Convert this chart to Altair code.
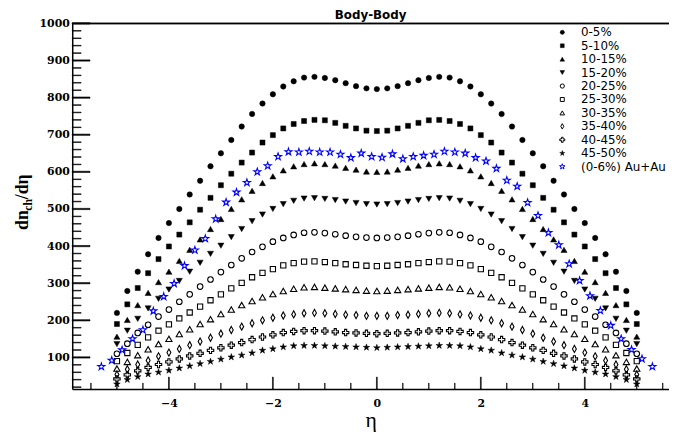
import altair as alt
import pandas as pd

# ---------------- data ----------------
eta_bb = [-5.0, -4.8, -4.6, -4.4, -4.2, -4.0, -3.8, -3.6, -3.4, -3.2, -3.0, -2.8, -2.6,
          -2.4, -2.2, -2.0, -1.8, -1.6, -1.4, -1.2, -1.0, -0.8, -0.6, -0.4, -0.2, 0.0,
          0.2, 0.4, 0.6, 0.8, 1.0, 1.2, 1.4, 1.6, 1.8, 2.0, 2.2, 2.4, 2.6, 2.8, 3.0,
          3.2, 3.4, 3.6, 3.8, 4.0, 4.2, 4.4, 4.6, 4.8, 5.0]

c00_05 = [220, 279, 331, 378, 422, 462, 500, 539, 576, 615, 650, 686, 722, 756, 784, 809, 830, 844, 854, 856, 853, 847, 839, 831, 825,
          823,
          825, 831, 839, 847, 853, 856, 854, 844, 830, 809, 784, 756, 722, 686, 650, 615, 576, 539, 500, 462, 422, 378, 331, 279, 220]
c05_10 = [190, 243, 287, 327, 365, 399, 431, 464, 498, 530, 564, 595, 625, 652, 679, 699, 717, 729, 737, 740, 739, 732, 724, 717, 711,
          710,
          711, 717, 724, 732, 739, 740, 737, 729, 717, 699, 679, 652, 625, 595, 564, 530, 498, 464, 431, 399, 365, 327, 287, 243, 190]
c10_15 = [156, 201, 241, 274, 303, 331, 360, 390, 418, 446, 473, 500, 526, 549, 570, 588, 604, 615, 621, 623, 621, 617, 611, 606, 601,
          600,
          601, 606, 611, 617, 621, 623, 621, 615, 604, 588, 570, 549, 526, 500, 473, 446, 418, 390, 360, 331, 303, 274, 241, 201, 156]
c15_20 = [136, 172, 204, 232, 258, 283, 306, 331, 355, 379, 401, 424, 446, 467, 485, 500, 513, 522, 528, 529, 527, 524, 520, 516, 513,
          512,
          513, 516, 520, 524, 527, 529, 528, 522, 513, 500, 485, 467, 446, 424, 401, 379, 355, 331, 306, 283, 258, 232, 204, 172, 136]
c20_25 = [110, 137, 166, 188, 210, 229, 250, 270, 291, 310, 330, 349, 367, 384, 398, 412, 422, 430, 436, 437, 435, 432, 428, 425, 423,
          422,
          423, 425, 428, 432, 435, 437, 436, 430, 422, 412, 398, 384, 367, 349, 330, 310, 291, 270, 250, 229, 210, 188, 166, 137, 110]
c25_30 = [90, 112, 134, 154, 172, 189, 205, 221, 237, 254, 270, 286, 301, 316, 328, 338, 348, 354, 358, 359, 357, 354, 351, 349, 347,
          346,
          347, 349, 351, 354, 357, 359, 358, 354, 348, 338, 328, 316, 301, 286, 270, 254, 237, 221, 205, 189, 172, 154, 134, 112, 90]
c30_35 = [70, 88, 106, 122, 136, 150, 163, 176, 190, 203, 217, 229, 241, 252, 262, 271, 279, 285, 289, 290, 288, 286, 284, 282, 280,
          279,
          280, 282, 284, 286, 288, 290, 289, 285, 279, 271, 262, 252, 241, 229, 217, 203, 190, 176, 163, 150, 136, 122, 106, 88, 70]
c35_40 = [54, 68, 81, 92, 103, 113, 123, 133, 143, 153, 164, 174, 183, 192, 200, 207, 213, 216, 219, 220, 219, 217, 215, 214, 212,
          212,
          212, 214, 215, 217, 219, 220, 219, 216, 213, 207, 200, 192, 183, 174, 164, 153, 143, 133, 123, 113, 103, 92, 81, 68, 54]
c40_45 = [42, 53, 64, 73, 81, 88, 96, 104, 111, 119, 126, 133, 140, 148, 155, 161, 167, 170, 172, 172, 171, 169, 167, 166, 165,
          164,
          165, 166, 167, 169, 171, 172, 172, 170, 167, 161, 155, 148, 140, 133, 126, 119, 111, 104, 96, 88, 81, 73, 64, 53, 42]
c45_50 = [28, 40, 48, 55, 60, 65, 71, 77, 83, 89, 95, 101, 106, 112, 119, 123, 128, 131, 132, 132, 131, 130, 129, 128, 127,
          126,
          127, 128, 129, 130, 131, 132, 132, 131, 128, 123, 119, 112, 106, 101, 95, 89, 83, 77, 71, 65, 60, 55, 48, 40, 28]

eta_auau = [-5.3, -5.1, -4.9, -4.7, -4.5, -4.3, -4.1, -3.9, -3.7, -3.5, -3.3, -3.1, -2.9, -2.7,
            -2.5, -2.3, -2.1, -1.9, -1.7, -1.5, -1.3, -1.1, -0.9, -0.7, -0.5, -0.3, -0.1,
            0.1, 0.3, 0.5, 0.7, 0.9, 1.1, 1.3, 1.5, 1.7, 1.9, 2.1, 2.3, 2.5, 2.7, 2.9,
            3.1, 3.3, 3.5, 3.7, 3.9, 4.1, 4.3, 4.5, 4.7, 4.9, 5.1, 5.3]
auau_0_6 = [75, 92, 120, 150, 174, 225, 264, 299, 347, 389, 420, 473, 518, 545,
            571, 600, 616, 641, 654, 653, 655, 653, 653, 647, 638, 650, 641,
            639, 648, 635, 641, 644, 647, 655, 653, 650, 638, 629, 609, 577, 561, 517,
            482, 436, 403, 352, 307, 266, 226, 186, 150, 121, 96, 75]

labels = ["0-5%", "5-10%", "10-15%", "15-20%", "20-25%", "25-30%", "30-35%",
          "35-40%", "40-45%", "45-50%", "(0-6%) Au+Au"]

x_major = [-4, -2, 0, 2, 4]
x_minor = [-5.5, -5.0, -4.5, -3.5, -3.0, -2.5, -1.5, -1.0, -0.5, 0.5, 1.0, 1.5,
           2.5, 3.0, 3.5, 4.5, 5.0, 5.5]
y_major = [100, 200, 300, 400, 500, 600, 700, 800, 900, 1000]
y_minor = [20, 40, 60, 80, 120, 140, 160, 180, 220, 240, 260, 280, 320, 340, 360, 380,
           420, 440, 460, 480, 520, 540, 560, 580, 620, 640, 660, 680, 720, 740, 760, 780,
           820, 840, 860, 880, 920, 940, 960, 980]

series_values = [c00_05, c05_10, c10_15, c15_20, c20_25, c25_30, c30_35,
                 c35_40, c40_45, c45_50, auau_0_6]
series_eta = [eta_bb] * 10 + [eta_auau]
for e, v in zip(series_eta, series_values):
    assert len(e) == len(v), (len(e), len(v))

# ---------------- styles ----------------
STAR = ("M0,-1L0.2245,-0.309L0.951,-0.309L0.363,0.118L0.588,0.809L0,0.382"
        "L-0.588,0.809L-0.363,0.118L-0.951,-0.309L-0.2245,-0.309Z")
THIN_DIAMOND = "M0,-1L0.55,0L0,1L-0.55,0Z"
OPEN_CROSS = ("M-0.33,-1L0.33,-1L0.33,-0.33L1,-0.33L1,0.33L0.33,0.33L0.33,1"
              "L-0.33,1L-0.33,0.33L-1,0.33L-1,-0.33L-0.33,-0.33Z")
VBAR = "M-0.07,-1L0.07,-1L0.07,1L-0.07,1Z"          # thin vertical bar (tick)
HBAR = "M-1,-0.07L1,-0.07L1,0.07L-1,0.07Z"          # thin horizontal bar (tick)
FRAME_BAR = "M-1,-0.0025L1,-0.0025L1,0.0025L-1,0.0025Z"  # long thin bar (top frame)

styles = [
    dict(shape="circle", filled=True, color="black", size=30, lsize=18),
    dict(shape="square", filled=True, color="black", size=26, lsize=15),
    dict(shape="triangle-up", filled=True, color="black", size=38, lsize=22),
    dict(shape="triangle-down", filled=True, color="black", size=38, lsize=22),
    dict(shape="circle", filled=False, color="black", size=32, lsize=18),
    dict(shape="square", filled=False, color="black", size=28, lsize=16),
    dict(shape="triangle-up", filled=False, color="black", size=40, lsize=22),
    dict(shape=THIN_DIAMOND, filled=False, color="black", size=52, lsize=30),
    dict(shape=OPEN_CROSS, filled=False, color="black", size=42, lsize=26),
    dict(shape=STAR, filled=True, color="black", size=50, lsize=30),
    dict(shape=STAR, filled=False, color="#0000ff", size=56, lsize=34),
]

W, H = 604, 370
XMIN, XMAX = -5.86, 5.62
YMIN, YMAX = 15, 1000
XU = (XMAX - XMIN) / W       # eta per pixel
YU = (YMAX - YMIN) / H       # dn/deta per pixel
xscale = alt.Scale(domain=[XMIN, XMAX], nice=False, zero=False)
yscale = alt.Scale(domain=[YMIN, YMAX], nice=False, zero=False)

xaxis = alt.Axis(values=x_major, format="d", title="η", ticks=False,
                 labelFont="DejaVu Serif", labelFontWeight="bold", labelFontSize=11,
                 labelPadding=9, titleFont="Liberation Serif", titleFontSize=22,
                 titleFontWeight="normal", titleY=38, titleBaseline="alphabetic",
                 titleColor="black")
yaxis = alt.Axis(values=y_major, format="d", title=None, ticks=False,
                 labelFont="DejaVu Serif", labelFontWeight="bold", labelFontSize=11,
                 labelPadding=3)


def X(f):
    return alt.X(f"{f}:Q", scale=xscale, axis=xaxis)


def Y(f):
    return alt.Y(f"{f}:Q", scale=yscale, axis=yaxis)


def point_props(st, size, sw_open):
    if st["filled"]:
        return dict(shape=st["shape"], filled=True, fill=st["color"], stroke=st["color"],
                    strokeWidth=0.5, size=size, opacity=1)
    return dict(shape=st["shape"], filled=False, stroke=st["color"], strokeWidth=sw_open,
                size=size, opacity=1)


layers = []
for lab, eta, vals, st in zip(labels, series_eta, series_values, styles):
    df = pd.DataFrame({"eta": eta, "v": vals})
    layers.append(alt.Chart(df).mark_point(**point_props(st, st["size"], 1.1))
                  .encode(x=X("eta"), y=Y("v")))


# inward ticks: thin filled bar symbols centred half a tick length inside the frame
def xtick_layer(vals, length):
    df = pd.DataFrame({"eta": vals, "v": [YMIN + 0.5 * length * YU] * len(vals)})
    return (alt.Chart(df)
            .mark_point(shape=VBAR, filled=True, fill="black", stroke="black",
                        strokeWidth=0.6, size=length * length, opacity=1)
            .encode(x=X("eta"), y=Y("v")))


def ytick_layer(vals, length):
    df = pd.DataFrame({"eta": [XMIN + 0.5 * length * XU] * len(vals), "v": vals})
    return (alt.Chart(df)
            .mark_point(shape=HBAR, filled=True, fill="black", stroke="black",
                        strokeWidth=0.6, size=length * length, opacity=1)
            .encode(x=X("eta"), y=Y("v")))


layers.append(xtick_layer(x_major, 12))
layers.append(xtick_layer(x_minor, 6))
layers.append(ytick_layer(y_major, 18))
layers.append(ytick_layer(y_minor, 9))

# top frame line: one long thin bar symbol centred on the top edge
top_df = pd.DataFrame({"eta": [(XMIN + XMAX) / 2], "v": [YMAX]})
layers.append(alt.Chart(top_df)
              .mark_point(shape=FRAME_BAR, filled=True, fill="black", stroke="black",
                          strokeWidth=0.3, size=W * W, opacity=1)
              .encode(x=X("eta"), y=Y("v")))

# y-axis title dn_ch/dη built from pieces
ytitle = [("dn", 18, -45, 209), ("ch", 12, -41, 189.5), ("/dη", 18, -45, 178)]
for txt, fs, xx, yy in ytitle:
    layers.append(alt.Chart(pd.DataFrame({"s": [txt]})).mark_text(
        font="Liberation Serif", fontWeight="bold", fontSize=fs, angle=270,
        align="left", baseline="alphabetic", color="black")
        .encode(text="s:N", x=alt.value(xx), y=alt.value(yy)))

# chart title
layers.append(alt.Chart(pd.DataFrame({"s": ["Body-Body"]})).mark_text(
    font="DejaVu Sans", fontWeight="bold", fontSize=12, align="center",
    baseline="alphabetic", color="black")
    .encode(text="s:N", x=alt.value(W / 2), y=alt.value(-4)))

# legend
LEG_Y0, LEG_DY = 9, 13.6
for i, (lab, st) in enumerate(zip(labels, styles)):
    d = pd.DataFrame({"label": [lab]})
    yy = LEG_Y0 + i * LEG_DY
    layers.append(alt.Chart(d).mark_point(**point_props(st, st["lsize"], 1))
                  .encode(x=alt.value(496), y=alt.value(yy)))
    layers.append(alt.Chart(d).mark_text(font="DejaVu Sans", fontSize=12, align="left",
                                         baseline="middle", color="black")
                  .encode(text="label:N", x=alt.value(515), y=alt.value(yy)))

chart = (alt.layer(*layers)
         .properties(width=W, height=H,
                     autosize=alt.AutoSizeParams(type="none"),
                     padding={"left": 65, "top": 13, "right": 0, "bottom": 45},
                     background="white")
         .configure_view(stroke=None)
         .configure_axis(domainColor="black", domainWidth=1.5, labelColor="black",
                         grid=False))

chart.save("out.html", embed_options={"renderer": "svg", "actions": False})
